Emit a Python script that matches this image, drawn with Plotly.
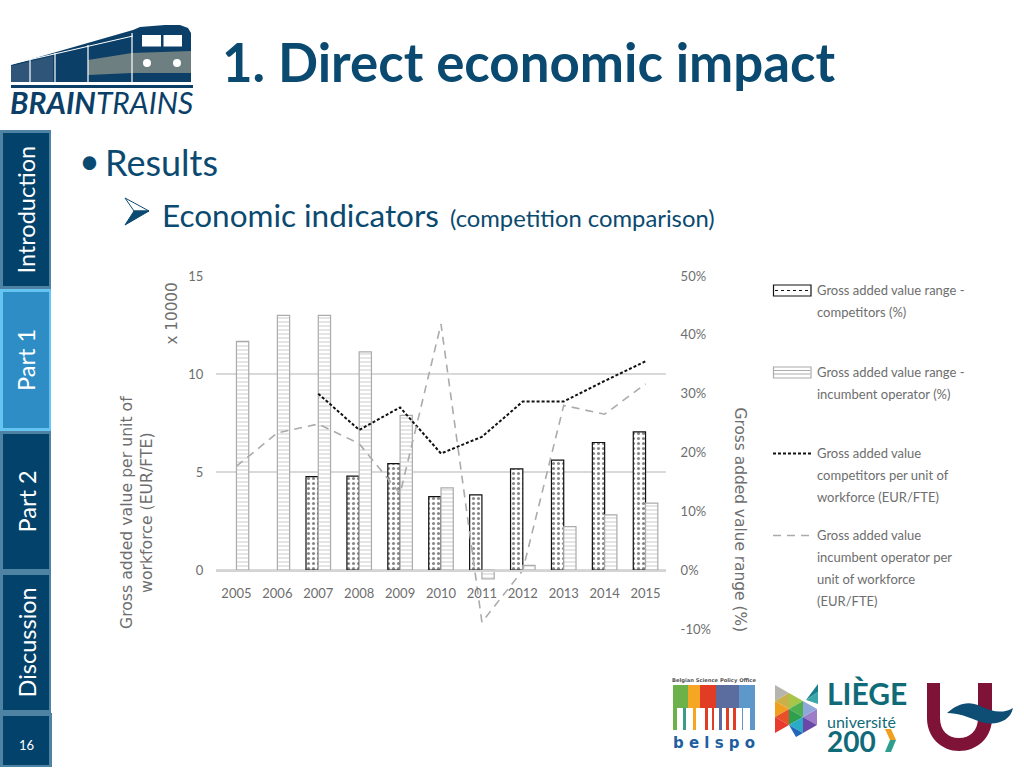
import plotly.graph_objects as go

# ---- data ----
years = ["2005","2006","2007","2008","2009","2010","2011","2012","2013","2014","2015"]
range_competitors = [None,None,15.9,16.0,18.1,12.5,12.8,17.2,18.7,21.7,23.5]
range_incumbent = [38.9,43.3,43.3,37.1,26.3,14.0,-1.5,0.8,7.4,9.4,11.4]
gva_competitors = [None,None,9.0,7.15,8.3,5.95,6.8,8.6,8.6,9.65,10.65]
gva_incumbent = [5.3,7.0,7.45,6.45,3.9,12.55,-2.65,0.0,8.4,7.95,9.5]
left_ticks = [0,5,10,15]
right_ticks = [-10,0,10,20,30,40,50]
right_labels = ["-10%","0%","10%","20%","30%","40%","50%"]
legend_a = ["Gross added value range -","competitors (%)"]
legend_b = ["Gross added value range -","incumbent operator (%)"]
legend_c = ["Gross added value","competitors per unit of","workforce (EUR/FTE)"]
legend_d = ["Gross added value","incumbent operator per","unit of workforce","(EUR/FTE)"]
sections = [("Introduction",130,289,False),("Part 1",289,431,True),("Part 2",431,572,False),("Discussion",572,713,False)]

W, H = 1024, 768
px = lambda x: x / W
py = lambda y: 1 - y / H
NARROW = "Lato"
WIDE = "DejaVu Sans"
SLIDE = "Lato"
INK = "#0B4A70"
GREY = "#6E6E6E"
def leg(lines):
    return "<br>".join(f'<span style="font-size:13px">{s}</span>' for s in lines)

fig = go.Figure()
# carrier of the left axis and its gridlines, drawn under the bars
fig.add_scatter(x=years, y=[None]*len(years), showlegend=False, hoverinfo="skip", mode="lines")
fig.add_bar(x=years, y=range_competitors, name=" ".join(legend_a), yaxis="y2", showlegend=False,
            marker=dict(color="white", line=dict(color="#111111", width=1.2),
                        pattern=dict(shape=".", fgcolor="#111111", bgcolor="white", size=5, solidity=0.3)))
fig.add_bar(x=years, y=range_incumbent, name=" ".join(legend_b), yaxis="y2", showlegend=False,
            marker=dict(color="white", line=dict(color="#ABABAB", width=1.2),
                        pattern=dict(shape="-", fgcolor="#A8A8A8", bgcolor="white", size=4, solidity=0.3)))
fig.add_scatter(x=years, y=gva_competitors, name=" ".join(legend_c), yaxis="y3", mode="lines", showlegend=False,
                line=dict(color="#111111", width=2, dash="3px,2px"))
fig.add_scatter(x=years, y=gva_incumbent, name=" ".join(legend_d), yaxis="y3", mode="lines", showlegend=False,
                line=dict(color="#ABABAB", width=1.6, dash="8px,6px"))

shapes = []
def rect(x0, y0, x1, y1, fill, line=None, lw=0):
    shapes.append(dict(type="rect", xref="paper", yref="paper", x0=px(x0), x1=px(x1), y0=py(y0), y1=py(y1),
                       fillcolor=fill, line=dict(color=line or fill, width=lw), layer="below"))
def poly(points, fill, line=None, lw=0):
    d = "M" + "L".join(f"{px(x):.5f},{py(y):.5f}" for x, y in points) + "Z"
    shapes.append(dict(type="path", xref="paper", yref="paper", path=d, fillcolor=fill,
                       line=dict(width=lw, color=line or fill), layer="below"))
def seg(x0, y0, x1, y1, color, w, dash="solid"):
    shapes.append(dict(type="line", xref="paper", yref="paper", x0=px(x0), x1=px(x1), y0=py(y0), y1=py(y1),
                       line=dict(color=color, width=w, dash=dash), layer="below"))
def circle(cx, cy, r, fill):
    shapes.append(dict(type="circle", xref="paper", yref="paper", x0=px(cx-r), x1=px(cx+r), y0=py(cy-r), y1=py(cy+r),
                       fillcolor=fill, line=dict(width=0), layer="below"))

anns = []
def text(x, y, s, size, color, family=SLIDE, angle=0, xa="left", ya="middle", align="left"):
    anns.append(dict(x=px(x), y=py(y), xref="paper", yref="paper", text=s, showarrow=False, textangle=angle,
                     xanchor=xa, yanchor=ya, align=align, font=dict(size=size, color=color, family=family),
                     borderpad=0, borderwidth=0))

# sidebar
for label, y0, y1, active in sections:
    edge = "#66C4F2" if active else "#4E83A3"
    rect(0, y0, 51, y1, edge)
    rect(3, y0+3, 49, y1-3, "#2F8DC6" if active else "#03426B")
    text(26, (y0+y1)/2, label, 23.5, "white", angle=-90, xa="center")
rect(0, 713, 52, 767, "#4E83A3")
rect(3, 716, 49, 765, "#03426B")
text(26, 745, "16", 13, "white", xa="center")

# train logo
navy = "#0C3F68"
poly([(11,65),(133,30),(140,27),(165,25),(180,25),(188,28),(191,33),(191,82),(11,82)], navy)
poly([(11,66),(53,56),(53,82),(11,82)], "#2F5578")
poly([(88,60),(132,53),(132,73),(88,75)], "#6D7F80")
poly([(132,53),(191,51),(191,73),(132,73)], "#6D7F80")
rect(142,35,161,46.5,"white"); rect(163.5,35,182,46.5,"white")
circle(147,63,4,"white"); circle(177,63,4,"white")
for xx,top in ((30,60),(55,53),(88,45),(132,33)):
    seg(xx, 82, xx, top, "white", 1.2)
seg(11,64,133,36,"white",1)
rect(11,85,193,88,navy)
text(10,102,"<b><i>BRAIN</i></b><i>TRAINS</i>",30,navy)

# heading text
text(221.5,62,"<b>1. Direct economic impact</b>",52.8,INK)
text(79,160,"•",36,INK)
text(105,162.5,"Results",36,INK)
poly([(125,198),(149,211),(134,211)], "white", INK, 1)
poly([(125,225),(149,211),(134,211)], INK, INK, 1)
text(161.5,215,"Economic indicators",31.5,INK)
text(450,218,"(competition comparison)",23.8,INK)

# axis titles placed as on the slide
text(136,513,"Gross added value per unit of<br>workforce (EUR/FTE)",15.7,GREY,family=WIDE,angle=-90,xa="center",align="center")
text(171,313.5,"x 10000",15.2,GREY,family=WIDE,angle=-90,xa="center")
text(740,519.5,"Gross added value range (%)",15.4,GREY,family=WIDE,angle=90,xa="center")

# legend keys and entries
rect(773.5,285,811,296,"white","#111111",1.2)
seg(775,290.5,810,290.5,"#111111",1.2,"dot")
rect(773.5,367,811,378,"white","#ABABAB",1.2)
seg(774,370.5,810,370.5,"#ABABAB",1); seg(774,374,810,374,"#ABABAB",1)
seg(773,453.5,811,453.5,"#111111",2,"3px,2px")
seg(773,535.5,811,535.5,"#ABABAB",1.6,"8px,6px")
for lines, first in ((legend_a,292),(legend_b,374),(legend_c,455),(legend_d,537)):
    anns.append(dict(x=px(815.5), y=py(first-11), xref="paper", yref="paper", text=leg(lines), showarrow=False,
                     xanchor="left", yanchor="top", align="left", borderpad=0,
                     font=dict(size=17, color=GREY, family=NARROW)))

# belspo
strip = [(673,688,"#6DB14B"),(688,700,"#F5A623"),(700,716,"#E03C26"),(716,739,"#5B6C9E"),(739,755,"#5E97C9")]
for x0,x1,c in strip:
    rect(x0,685,x1,730,c)
rect(673,708,755,730,"white")
for xx,c,w in [(673,"#6DB14B",4),(683,"#3F9A8A",3),(693,"#F5A623",3),(705,"#E03C26",3),(712,"#E03C26",2),(719,"#5B6C9E",3),(726,"#E03C26",3),(733,"#E03C26",3),(742,"#5E97C9",1),(750,"#5E97C9",5)]:
    rect(xx,708,xx+w,730,c)
text(714,680.5,"<b>Belgian Science Policy Office</b>",5.2,"#555555",family=WIDE,xa="center")
text(714,743,"<b>b e l s p o</b>",15,"#1F5FA0",family=WIDE,xa="center")

# Liege logo
tri = [
 ([(775,685),(789,693),(775,701)],"#B5B5AE"),
 ([(789,693),(803,701),(789,709)],"#A6C64A"),([(775,701),(789,693),(789,709)],"#C9B04A"),
 ([(775,701),(789,709),(775,717)],"#F0A01E"),([(789,709),(803,701),(803,717)],"#4CAF50"),
 ([(775,717),(789,709),(789,725)],"#E8502A"),([(789,709),(803,717),(789,725)],"#2E9E4F"),
 ([(775,717),(789,725),(775,733)],"#E83A2E"),([(789,725),(803,717),(803,733)],"#29ABC9"),
 ([(803,717),(817,709),(817,725)],"#9D7CC8"),([(803,733),(803,717),(817,725)],"#6A48A8"),
 ([(789,725),(803,733),(796,737)],"#2266B8"),([(803,701),(817,709),(803,717)],"#8FA8DC"),
 ([(806,700),(818,684),(818,692)],"#1A7F8C"),([(806,700),(818,692),(818,704)],"#3BA7A8"),
]
for pts,c in tri:
    poly(pts,c)
TEAL = "#0F6B78"
text(827,716,
     '<span style="font-size:30px"><b>LIÈGE</b></span><br>'
     '<span style="font-size:16px">université</span><br>'
     '<span style="font-size:28px"><b>200</b></span>',
     18, TEAL)
poly([(885,729),(891,729),(896,740),(890,740)],"#F0A01E")
poly([(890,740),(896,740),(891,752),(885,752)],"#2E9E8F")

# U logo
MAROON = "#7E1237"
shapes.append(dict(type="path", xref="paper", yref="paper", layer="below", fillcolor=MAROON, line=dict(width=0),
    path="M%.5f,%.5f L%.5f,%.5f C%.5f,%.5f %.5f,%.5f %.5f,%.5f C%.5f,%.5f %.5f,%.5f %.5f,%.5f L%.5f,%.5f L%.5f,%.5f L%.5f,%.5f C%.5f,%.5f %.5f,%.5f %.5f,%.5f C%.5f,%.5f %.5f,%.5f %.5f,%.5f L%.5f,%.5f Z" % (
      px(927),py(683), px(927),py(718), px(927),py(738), px(942),py(751), px(959),py(751),
      px(977),py(751), px(992),py(738), px(992),py(718), px(992),py(683), px(978),py(683), px(978),py(718),
      px(978),py(731), px(970),py(738), px(959),py(738), px(948),py(738), px(940),py(731), px(940),py(718), px(940),py(683))))
shapes.append(dict(type="path", xref="paper", yref="paper", layer="above", fillcolor="#0E4D74", line=dict(width=0),
    path="M%.5f,%.5f C%.5f,%.5f %.5f,%.5f %.5f,%.5f C%.5f,%.5f %.5f,%.5f %.5f,%.5f C%.5f,%.5f %.5f,%.5f %.5f,%.5f C%.5f,%.5f %.5f,%.5f %.5f,%.5f Z" % (
      px(947),py(713), px(957),py(704), px(968),py(700), px(980),py(706),
      px(992),py(712), px(1003),py(714), px(1013),py(708),
      px(1010),py(722), px(995),py(726), px(981),py(722),
      px(968),py(717), px(958),py(713), px(947),py(713))))

dom = [py(629), py(276)]
fig.update_layout(
    width=W, height=H, margin=dict(l=0, r=0, t=0, b=0, autoexpand=False), paper_bgcolor="white", plot_bgcolor="rgba(0,0,0,0)",
    barmode="group", bargap=0.4, bargroupgap=0, shapes=shapes, annotations=anns, showlegend=False,
    font=dict(family=NARROW, color=GREY, size=14),
    xaxis=dict(domain=[px(216), px(666)], anchor="free", position=py(570.5), type="category",
               showline=True, linecolor="#D4D4D4", linewidth=2, showgrid=False, ticks="outside", ticklen=11,
               tickcolor="rgba(0,0,0,0)", tickfont=dict(size=13, color=GREY, family=NARROW)),
    yaxis=dict(domain=dom, range=[-3, 15], tickvals=left_ticks, side="left", anchor="x",
               showgrid=True, gridcolor="#D9D9D9", gridwidth=2, zeroline=False, ticks="outside", ticklen=9,
               tickcolor="rgba(0,0,0,0)", tickfont=dict(size=13, color=GREY, family=NARROW)),
    yaxis2=dict(domain=dom, overlaying="y", range=[-10, 50], tickvals=right_ticks, ticktext=right_labels, side="right", anchor="x",
                showgrid=False, zeroline=False, ticks="outside", ticklen=11,
                tickcolor="rgba(0,0,0,0)", tickfont=dict(size=13, color=GREY, family=NARROW)),
    yaxis3=dict(domain=dom, overlaying="y", range=[-3, 15], visible=False),
)
fig.write_html("out.html", config=dict(displayModeBar=False),
               post_script="document.body.style.margin='0';document.body.style.overflow='hidden';")
